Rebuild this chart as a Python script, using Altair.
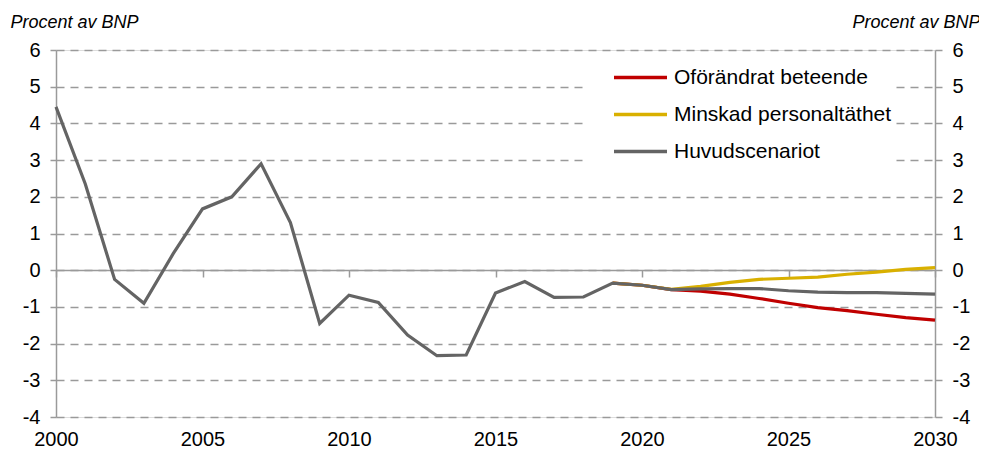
import altair as alt
import pandas as pd

years = list(range(2000, 2031))
huvud = [4.45, 2.35, -0.25, -0.9, 0.45, 1.67, 2.0, 2.9, 1.3, -1.45,
         -0.68, -0.88, -1.77, -2.33, -2.31, -0.62, -0.31, -0.74, -0.73, -0.35,
         -0.41, -0.53, -0.51, -0.5, -0.5, -0.56, -0.6, -0.61, -0.61, -0.63, -0.65]
scen_years = list(range(2019, 2031))
oforandrat = [-0.35, -0.41, -0.53, -0.57, -0.65, -0.77, -0.9, -1.02, -1.1, -1.2, -1.29, -1.36]
minskad = [-0.35, -0.41, -0.52, -0.44, -0.33, -0.25, -0.22, -0.19, -0.11, -0.05, 0.02, 0.07]

series = ["Oförändrat beteende", "Minskad personaltäthet", "Huvudscenariot"]
colors = ["#c00000", "#d9b000", "#646464"]
y_ticks = list(range(-4, 7))
x_ticks = [2000, 2005, 2010, 2015, 2020, 2025, 2030]

rows = []
for y, v in zip(scen_years, oforandrat):
    rows.append({"year": y, "value": v, "serie": series[0]})
for y, v in zip(scen_years, minskad):
    rows.append({"year": y, "value": v, "serie": series[1]})
for y, v in zip(years, huvud):
    rows.append({"year": y, "value": v, "serie": series[2]})
df = pd.DataFrame(rows)

FONT = "Liberation Sans"
AX = "#9a9a9a"
W, H = 879, 367
FS = 20
LBL = "'' + datum.value"

xscale = alt.Scale(domain=[2000, 2030], nice=False, zero=False)
yscale = alt.Scale(domain=[-4, 6], nice=False, zero=False)

base = alt.Chart(df)

# left y axis + bottom labels
left = base.mark_line(strokeWidth=3.2, strokeJoin="miter").encode(
    x=alt.X("year:Q", scale=xscale,
            axis=alt.Axis(orient="bottom", values=x_ticks, labelExpr=LBL, domain=False, ticks=False,
                          grid=False, labelFontSize=FS, labelFont=FONT, labelColor="#000",
                          labelPadding=12, title=None, labelFlush=False)),
    y=alt.Y("value:Q", scale=yscale,
            axis=alt.Axis(values=y_ticks, labelExpr=LBL, grid=True, gridColor=AX, gridDash=[8, 6],
                          gridWidth=1.5,
                          domainColor=AX, domainWidth=1.5, tickColor=AX, tickWidth=1.5, tickSize=6,
                          labelFontSize=FS, labelFont=FONT, labelColor="#000", labelPadding=10,
                          title="Procent av BNP", titleAngle=0, titleAlign="left",
                          titleBaseline="alphabetic", titleX=-46, titleY=-23,
                          titleFont=FONT, titleFontSize=18, titleFontStyle="italic",
                          titleFontWeight="normal", titleColor="#000")),
    color=alt.Color("serie:N", sort=series,
                    scale=alt.Scale(domain=series, range=colors),
                    legend=alt.Legend(orient="none", legendX=528, legendY=6, title=None,
                                      symbolType="stroke", symbolStrokeWidth=3.5, symbolSize=2809,
                                      clipHeight=35, rowPadding=2, labelOffset=5, labelLimit=400,
                                      labelFontSize=21, labelFont=FONT, labelColor="#000",
                                      fillColor="white", padding=4, symbolOffset=24)),
    detail="serie:N",
)

# zero line as an offset x axis with downward ticks
zero_axis = base.mark_line(opacity=0).encode(
    x=alt.X("year:Q", scale=xscale,
            axis=alt.Axis(values=x_ticks, orient="bottom", offset=-147, labels=False,
                          domainColor=AX, domainWidth=1.5, tickColor=AX, tickWidth=1.5,
                          tickSize=7, grid=False, title=None)),
    y=alt.Y("value:Q", scale=yscale, axis=None),
    detail="serie:N",
)

# right y axis
right = base.mark_line(opacity=0).encode(
    x=alt.X("year:Q", scale=xscale, axis=None),
    y=alt.Y("value:Q", scale=yscale,
            axis=alt.Axis(orient="right", values=y_ticks, labelExpr=LBL, grid=False,
                          domainColor=AX, domainWidth=1.5, tickColor=AX, tickWidth=1.5, tickSize=7,
                          labelFontSize=FS, labelFont=FONT, labelColor="#000", labelPadding=10,
                          title="Procent av BNP", titleAngle=0, titleAlign="right",
                          titleBaseline="alphabetic", titleX=45, titleY=-23,
                          titleFont=FONT, titleFontSize=18, titleFontStyle="italic",
                          titleFontWeight="normal", titleColor="#000")),
    detail="serie:N",
)

chart = alt.layer(zero_axis, left, right).resolve_axis(
    x="independent", y="independent"
).properties(
    width=W, height=H,
    padding={"left": 48, "top": 42, "right": 44, "bottom": 35},
    autosize=alt.AutoSizeParams(type="none"),
).configure_view(stroke=None).configure(background="white")

chart.save("out.html", embed_options={"renderer": "svg", "actions": False})
